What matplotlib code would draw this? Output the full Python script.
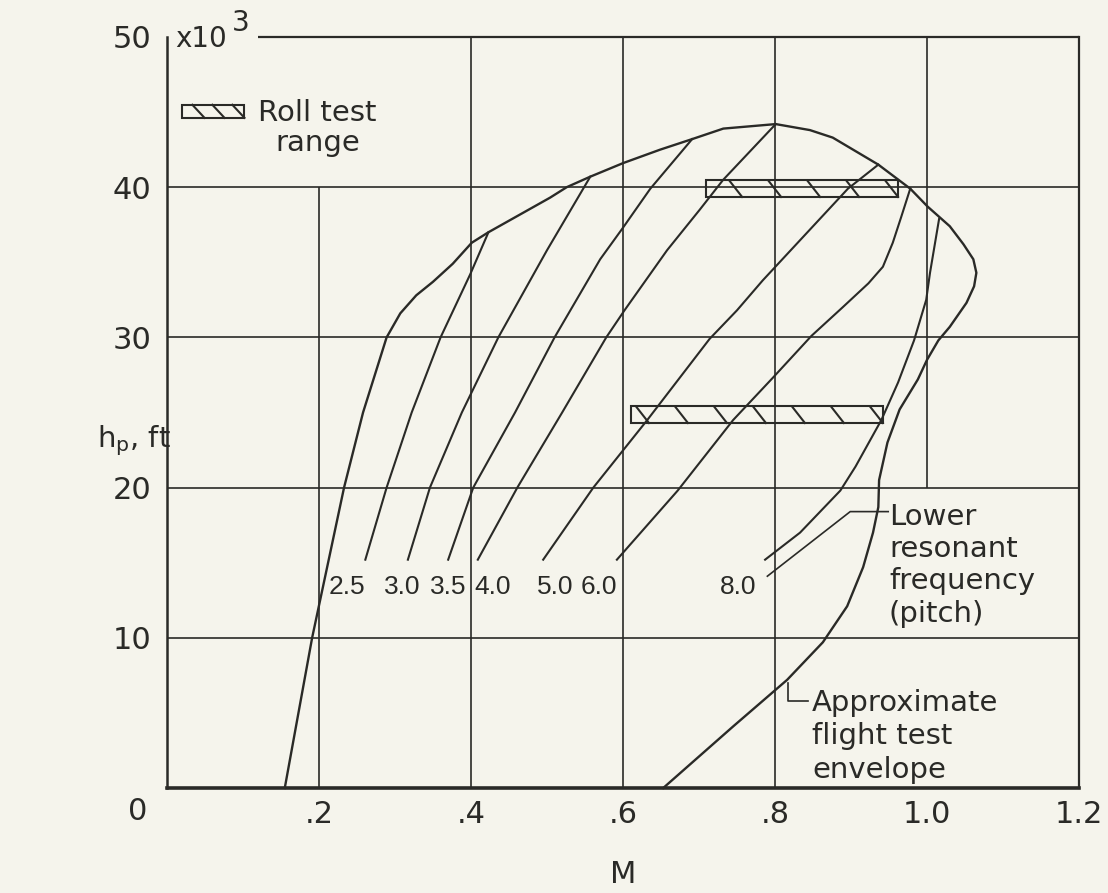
import numpy as np
import matplotlib.pyplot as plt
from matplotlib.patches import Rectangle

ink = '#2a2a27'
paper = '#f5f4ec'
plt.rcParams['font.family'] = ['DejaVu Sans']

# approximate flight test envelope (M, h_p in 1000 ft), traced round from lower left
env_M = [0.155, 0.191, 0.233, 0.258, 0.289, 0.307, 0.328, 0.350, 0.376, 0.401, 0.423,
         0.504, 0.526, 0.557, 0.600, 0.649, 0.691, 0.732, 0.801, 0.846, 0.876, 0.936,
         0.978, 1.001, 1.030, 1.048, 1.061, 1.065, 1.062, 1.052, 1.030, 1.015, 1.000,
         0.988, 0.964, 0.948, 0.937, 0.936, 0.929, 0.916, 0.895, 0.863, 0.816, 0.745,
         0.653]
env_h = [0, 10, 20, 25, 30, 31.6, 32.8, 33.7, 34.9, 36.3, 37.0,
         39.3, 40.0, 40.7, 41.6, 42.5, 43.2, 43.9, 44.2, 43.8, 43.3, 41.5,
         39.9, 38.7, 37.4, 36.2, 35.2, 34.3, 33.4, 32.3, 30.7, 29.8, 28.5,
         27.2, 25.2, 23.0, 20.5, 18.7, 17.0, 14.7, 12.1, 9.7, 7.2, 4.1,
         0]

# lower resonant frequency (pitch) lines
f25_M = [0.261, 0.289, 0.322, 0.360, 0.399, 0.423]
f25_h = [15.2, 20, 25, 30, 34.2, 37.0]
f30_M = [0.317, 0.346, 0.388, 0.436, 0.500, 0.557]
f30_h = [15.2, 20, 25, 30, 35.8, 40.7]
f35_M = [0.370, 0.403, 0.458, 0.510, 0.570, 0.600, 0.636, 0.691]
f35_h = [15.2, 20, 25, 30, 35.2, 37.3, 39.9, 43.2]
f40_M = [0.409, 0.461, 0.520, 0.578, 0.602, 0.658, 0.701, 0.732, 0.801]
f40_h = [15.2, 20, 25, 30, 31.8, 35.8, 38.5, 40.5, 44.2]
f50_M = [0.495, 0.561, 0.632, 0.714, 0.750, 0.784, 0.896, 0.936]
f50_h = [15.2, 20, 24.5, 29.9, 31.8, 33.8, 39.9, 41.5]
f60_M = [0.592, 0.672, 0.745, 0.797, 0.848, 0.889, 0.923, 0.942, 0.955, 0.966, 0.978]
f60_h = [15.2, 19.8, 24.5, 27.3, 30.1, 32.0, 33.6, 34.7, 36.3, 38.0, 39.9]
f80_M = [0.787, 0.833, 0.886, 0.906, 0.940, 0.962, 0.983, 0.999, 1.004, 1.016]
f80_h = [15.2, 17.0, 19.8, 21.4, 24.5, 27.0, 29.8, 32.5, 34.3, 37.9]
freq_names = ['2.5', '3.0', '3.5', '4.0', '5.0', '6.0', '8.0']

# roll test ranges
roll_M0 = [0.610, 0.709]
roll_M1 = [0.942, 0.962]
roll_h = [24.85, 39.9]

xticks = [0.2, 0.4, 0.6, 0.8, 1.0, 1.2]
xticklabels = ['.2', '.4', '.6', '.8', '1.0', '1.2']
yticks = [10, 20, 30, 40, 50]


def hatched_bar(ax, m0, m1, hc, hh, step, slant):
    ax.add_patch(Rectangle((m0, hc - hh / 2), m1 - m0, hh, fill=False,
                           ec=ink, lw=1.5, clip_on=False, zorder=4))
    for xb in np.arange(m1, m0 + slant - 1e-6, -step):
        ax.plot([xb - slant, xb], [hc + hh / 2, hc - hh / 2], color=ink,
                lw=1.5, clip_on=False, zorder=4)


fig = plt.figure(figsize=(11.08, 8.93), dpi=100, facecolor=paper)
ax = fig.add_axes([0.1507, 0.1176, 0.8231, 0.8410])
ax.set_facecolor(paper)
ax.set_xlim(0, 1.2)
ax.set_ylim(0, 50)

# grid, drawn by hand since some lines are cut short
glw = 1.2
ax.vlines(0.2, 0, 40, color=ink, lw=glw)
ax.vlines([0.4, 0.6, 0.8], 0, 50, color=ink, lw=glw)
ax.vlines(1.0, 20, 50, color=ink, lw=glw)
ax.hlines([10, 20, 30, 40], 0, 1.2, color=ink, lw=glw)
ax.hlines(50, 0.12, 1.2, color=ink, lw=1.6, clip_on=False)

ax.spines['top'].set_visible(False)
ax.spines['left'].set_linewidth(1.8)
ax.spines['right'].set_linewidth(1.6)
ax.spines['bottom'].set_linewidth(2.6)
for s in ['left', 'right', 'bottom']:
    ax.spines[s].set_color(ink)

ax.plot(env_M, env_h, color=ink, lw=1.7, clip_on=False, zorder=3)
curves = [(f25_M, f25_h), (f30_M, f30_h), (f35_M, f35_h), (f40_M, f40_h),
          (f50_M, f50_h), (f60_M, f60_h), (f80_M, f80_h)]
for cm, ch in curves:
    ax.plot(cm, ch, color=ink, lw=1.5, zorder=3)

label_M = [0.237, 0.309, 0.370, 0.428, 0.511, 0.568, 0.751]
for name, lm in zip(freq_names, label_M):
    ax.text(lm, 13.4, name, fontsize=19, color=ink, ha='center', va='center',
            family=['Liberation Sans', 'DejaVu Sans'])

for m0, m1, hc in zip(roll_M0, roll_M1, roll_h):
    hatched_bar(ax, m0, m1, hc, 1.1, 0.0513, 0.017)

# legend key
hatched_bar(ax, 0.020, 0.102, 45.05, 0.87, 0.0263, 0.016)
ax.text(0.120, 45.9, 'Roll test\nrange', fontsize=21, color=ink, ha='left',
        va='top', multialignment='center', linespacing=1.1)

# leaders and notes
ax.plot([0.790, 0.899, 0.949], [14.1, 18.4, 18.4], color=ink, lw=1.2)
ax.text(0.950, 19.0, 'Lower\nresonant\nfrequency\n(pitch)', fontsize=21,
        color=ink, ha='left', va='top', linespacing=1.2)
ax.plot([0.817, 0.817, 0.843], [7.0, 5.8, 5.8], color=ink, lw=1.2)
ax.text(0.849, 6.6, 'Approximate\nflight test\nenvelope', fontsize=21,
        color=ink, ha='left', va='top', linespacing=1.25)

ax.set_xticks(xticks)
ax.set_xticklabels(xticklabels)
ax.set_yticks(yticks)
ax.tick_params(length=0, labelsize=22, colors=ink)
ax.tick_params(axis='x', pad=9)
ax.tick_params(axis='y', pad=11)
ax.annotate('0', xy=(0, 0), xytext=(-29, -24), textcoords='offset pixels',
            fontsize=22, color=ink, ha='center', va='center',
            annotation_clip=False)

ax.text(0.011, 49.3, 'x10', fontsize=20, color=ink, ha='left', va='baseline')
ax.text(0.086, 50.4, '3', fontsize=20, color=ink, ha='left', va='baseline')

ax.text(-0.077, 0.463, r'h$_\mathregular{p}$, ft', fontsize=21, color=ink,
        ha='left', va='center', transform=ax.transAxes)
ax.set_xlabel('M', fontsize=22, color=ink, labelpad=22)

fig.savefig('out.png', dpi=100, facecolor=paper)
